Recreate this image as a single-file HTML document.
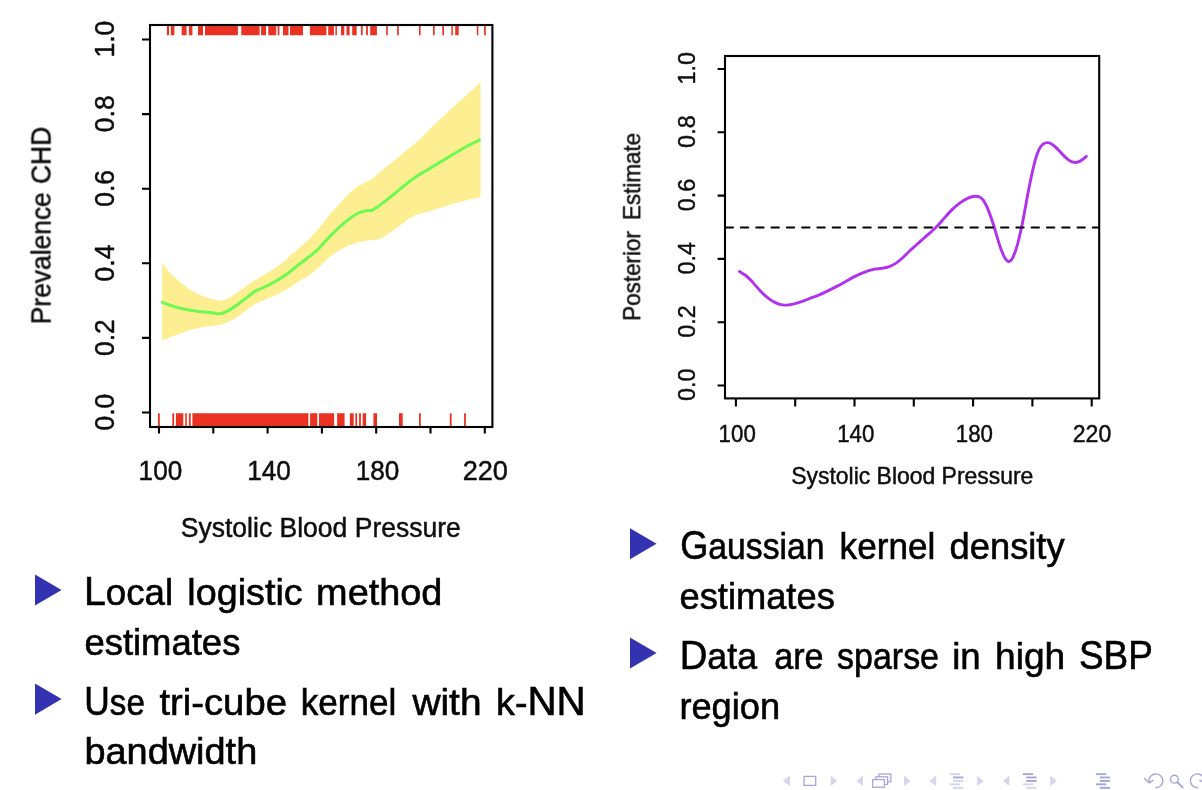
<!DOCTYPE html>
<html lang="en"><head><meta charset="utf-8"><title>Local logistic and kernel density estimates</title>
<style>
html,body{margin:0;padding:0;background:#fff;}
body{width:1202px;height:790px;overflow:hidden;font-family:"Liberation Sans", sans-serif;}
svg{display:block;}
</style></head><body>
<svg width="1202" height="790" viewBox="0 0 1202 790">
<rect width="1202" height="790" fill="#fff"/>
<defs><filter id="soft" x="-5%" y="-5%" width="110%" height="110%"><feGaussianBlur stdDeviation="0.55"/></filter></defs>
<g id="leftplot" filter="url(#soft)">
<polygon fill="#fdef91" points="162.1,263.2 170.2,272.9 180.4,282.6 190.5,290.1 200.6,295.2 210.7,298.8 219.9,300.8 226.9,299.2 235.0,294.1 245.2,286.7 255.3,280.0 265.4,273.9 275.5,267.8 285.7,260.3 290.0,255.4 299.5,247.8 309.0,239.3 318.5,228.8 328.0,216.5 337.5,206.0 347.0,195.6 356.5,187.0 366.0,182.3 371.7,179.4 381.2,170.9 390.7,163.3 400.2,155.7 419.0,139.9 436.5,122.4 454.0,106.4 471.5,90.4 480.5,82.2 480.5,197.3 471.5,199.0 454.0,203.4 436.5,208.9 430.0,211.2 417.3,214.6 407.8,219.3 398.3,226.9 388.8,233.6 381.2,238.5 375.5,239.7 366.0,240.8 356.5,242.7 347.0,245.9 337.5,251.6 328.0,258.3 318.5,267.4 309.0,275.4 299.5,281.1 290.0,287.2 285.7,290.1 275.5,295.2 265.4,299.6 255.3,303.7 245.2,311.0 235.0,318.4 226.9,322.5 219.9,325.1 210.7,325.9 200.6,327.6 190.5,330.0 180.4,333.6 170.2,337.3 162.1,340.7"/>
<path fill="none" stroke="#70f853" stroke-width="3.1" stroke-linejoin="round" d="M161.3 301.8C162.8 302.4 167.0 304.2 170.2 305.3C173.4 306.4 177.0 307.5 180.4 308.3C183.8 309.1 187.1 309.7 190.5 310.3C193.9 310.9 197.2 311.4 200.6 311.8C204.0 312.2 207.5 312.3 210.7 312.6C213.9 312.9 217.2 314.0 219.9 313.8C222.6 313.6 224.4 312.6 226.9 311.4C229.4 310.1 231.9 308.4 235.0 306.3C238.1 304.2 241.8 301.3 245.2 298.8C248.6 296.3 251.9 293.1 255.3 291.1C258.7 289.1 262.0 288.3 265.4 286.7C268.8 285.1 272.1 283.4 275.5 281.4C278.9 279.4 283.3 276.5 285.7 274.9C288.1 273.3 287.7 273.4 290.0 271.6C292.3 269.8 296.3 266.5 299.5 264.0C302.7 261.5 305.8 259.3 309.0 256.8C312.2 254.3 315.3 251.9 318.5 248.8C321.7 245.7 324.8 241.6 328.0 238.3C331.2 235.0 334.3 231.7 337.5 228.8C340.7 225.9 343.8 223.2 347.0 220.7C350.2 218.2 353.3 215.7 356.5 214.0C359.7 212.3 363.5 211.4 366.0 210.8C368.5 210.2 369.8 211.0 371.7 210.4C373.6 209.8 375.2 208.5 377.4 207.0C379.6 205.5 382.1 203.5 385.0 201.3C387.9 199.1 391.3 196.3 394.5 193.7C397.7 191.1 400.8 188.2 404.0 185.7C407.2 183.2 410.3 180.7 413.5 178.5C416.7 176.3 420.1 174.2 423.0 172.4C425.9 170.6 426.5 170.4 430.7 167.9C434.9 165.4 442.4 160.8 448.2 157.3C454.0 153.8 460.2 150.0 465.6 147.0C471.0 144.0 478.0 140.8 480.5 139.5"/>
<path fill="#e93324" d="M166.9 26h2.1v9.2h-2.1zM170.8 26h3.6v9.2h-3.6zM181.7 26h4.9v9.2h-4.9zM188.9 26h3.5v9.2h-3.5zM198.0 26h5.0v9.2h-5.0zM205.0 26h32.9v9.2h-32.9zM241.3 26h18.3v9.2h-18.3zM261.1 26h4.9v9.2h-4.9zM268.3 26h7.9v9.2h-7.9zM277.6 26h1.8v9.2h-1.8zM283.0 26h5.5v9.2h-5.5zM290.0 26h13.0v9.2h-13.0zM309.9 26h16.5v9.2h-16.5zM328.2 26h5.7v9.2h-5.7zM335.4 26h1.5v9.2h-1.5zM341.0 26h3.3v9.2h-3.3zM346.5 26h3.1v9.2h-3.1zM352.2 26h4.5v9.2h-4.5zM360.9 26h1.8v9.2h-1.8zM366.1 26h1.8v9.2h-1.8zM370.2 26h6.7v9.2h-6.7zM386.2 26h1.6v9.2h-1.6zM397.1 26h1.7v9.2h-1.7zM419.0 26h1.6v9.2h-1.6zM433.0 26h1.7v9.2h-1.7zM442.3 26h1.7v9.2h-1.7zM451.3 26h1.5v9.2h-1.5zM455.2 26h3.5v9.2h-3.5zM476.8 26h1.5v9.2h-1.5zM484.1 26h1.7v9.2h-1.7z"/>
<path fill="#e93324" d="M158.0 413.2h1.8v13h-1.8zM172.3 413.2h1.8v13h-1.8zM175.9 413.2h7.4v13h-7.4zM185.2 413.2h1.6v13h-1.6zM188.9 413.2h1.8v13h-1.8zM192.4 413.2h116.0v13h-116.0zM310.1 413.2h7.2v13h-7.2zM319.0 413.2h15.1v13h-15.1zM337.1 413.2h7.5v13h-7.5zM349.9 413.2h3.8v13h-3.8zM355.4 413.2h1.7v13h-1.7zM359.1 413.2h1.8v13h-1.8zM362.7 413.2h3.4v13h-3.4zM373.4 413.2h3.6v13h-3.6zM399.0 413.2h3.7v13h-3.7zM419.0 413.2h1.8v13h-1.8zM449.8 413.2h1.8v13h-1.8zM464.1 413.2h1.8v13h-1.8z"/>
<rect x="150.0" y="25.0" width="342.4" height="402.0" fill="none" stroke="#000" stroke-width="2.1"/>
<path stroke="#000" stroke-width="2.1" fill="none" d="M142 412.5H150M142 337.9H150M142 263.3H150M142 188.7H150M142 114.1H150M142 39.5H150M159.0 427V433.6M213.3 427V433.6M267.6 427V433.6M321.9 427V433.6M376.2 427V433.6M430.5 427V433.6M484.8 427V433.6"/>
<g font-family='"Liberation Sans", sans-serif' font-size="27.7" fill="#0a0a0a" stroke="#0a0a0a" stroke-width="0.45" text-anchor="middle">
<text transform="translate(114 412.2) rotate(-90)" textLength="36.8" lengthAdjust="spacingAndGlyphs">0.0</text>
<text transform="translate(114 337.6) rotate(-90)" textLength="36.8" lengthAdjust="spacingAndGlyphs">0.2</text>
<text transform="translate(114 263.0) rotate(-90)" textLength="36.8" lengthAdjust="spacingAndGlyphs">0.4</text>
<text transform="translate(114 188.4) rotate(-90)" textLength="36.8" lengthAdjust="spacingAndGlyphs">0.6</text>
<text transform="translate(114 113.8) rotate(-90)" textLength="36.8" lengthAdjust="spacingAndGlyphs">0.8</text>
<text transform="translate(114 39.2) rotate(-90)" textLength="36.8" lengthAdjust="spacingAndGlyphs">1.0</text>
<text x="160.4" y="480.1" textLength="43.6" lengthAdjust="spacingAndGlyphs">100</text>
<text x="269.0" y="480.1" textLength="43.6" lengthAdjust="spacingAndGlyphs">140</text>
<text x="377.6" y="480.1" textLength="43.6" lengthAdjust="spacingAndGlyphs">180</text>
<text x="485.3" y="480.1" textLength="45.3" lengthAdjust="spacingAndGlyphs">220</text>
<text font-size="27.9" word-spacing="1" transform="translate(50.5 225.5) rotate(-90)" textLength="197.5" lengthAdjust="spacingAndGlyphs">Prevalence CHD</text>
<text font-size="28.2" x="320.8" y="536.8" textLength="280" lengthAdjust="spacingAndGlyphs">Systolic Blood Pressure</text>
</g></g>
<g id="rightplot" filter="url(#soft)">
<path fill="none" stroke="#b030ec" stroke-width="2.9" stroke-linecap="round" stroke-linejoin="round" d="M739.5 271.5C740.4 272.1 743.2 273.7 745.0 275.0C746.8 276.3 748.3 277.8 750.0 279.4C751.7 281.0 753.4 283.1 755.0 284.9C756.6 286.7 758.2 288.6 759.9 290.4C761.5 292.1 763.2 293.9 764.9 295.4C766.6 296.9 768.2 298.2 769.9 299.4C771.6 300.6 773.2 301.6 774.9 302.4C776.6 303.2 778.2 303.9 779.9 304.4C781.6 304.8 783.2 305.1 784.9 305.1C786.6 305.2 788.2 304.9 789.9 304.7C791.6 304.5 793.2 304.1 794.9 303.7C796.6 303.3 798.2 302.7 799.9 302.1C801.6 301.6 803.2 301.0 804.9 300.4C806.5 299.8 808.1 299.0 809.8 298.4C811.4 297.8 813.1 297.2 814.8 296.6C816.5 296.0 818.1 295.3 819.8 294.6C821.5 293.9 823.1 293.2 824.8 292.4C826.5 291.6 828.1 290.7 829.8 289.9C831.5 289.1 833.1 288.3 834.8 287.4C836.5 286.5 838.0 285.8 840.0 284.7C842.0 283.6 844.7 282.1 847.0 280.8C849.3 279.5 851.6 278.1 853.9 276.9C856.2 275.7 858.6 274.6 860.9 273.6C863.2 272.6 865.6 271.6 867.9 270.8C870.2 270.1 872.5 269.5 874.8 269.1C877.1 268.7 879.5 268.7 881.8 268.3C884.1 267.9 886.4 267.6 888.7 266.8C891.0 266.0 893.4 264.9 895.7 263.4C898.0 261.9 900.4 259.8 902.7 257.7C905.0 255.6 907.3 253.2 909.6 251.0C911.9 248.8 914.3 246.9 916.6 244.8C918.9 242.7 921.3 240.6 923.6 238.5C925.9 236.4 928.2 234.5 930.5 232.4C932.8 230.3 935.2 228.2 937.5 225.8C939.8 223.4 942.2 220.5 944.5 217.9C946.8 215.3 949.1 212.7 951.4 210.4C953.7 208.1 956.1 206.0 958.4 204.2C960.7 202.4 963.2 200.7 965.3 199.5C967.4 198.3 969.1 197.6 970.9 197.0C972.6 196.4 974.3 196.2 975.8 196.2C977.3 196.2 978.7 196.5 980.0 197.2C981.3 197.9 982.3 198.8 983.4 200.3C984.5 201.8 985.4 203.6 986.6 206.2C987.8 208.8 989.1 212.3 990.4 215.8C991.7 219.3 993.0 223.3 994.3 227.3C995.5 231.3 996.7 235.7 997.9 239.6C999.1 243.5 1000.4 247.6 1001.6 250.8C1002.8 254.0 1004.1 256.8 1005.3 258.6C1006.5 260.4 1007.5 261.4 1008.6 261.5C1009.7 261.6 1010.7 261.0 1011.8 259.4C1012.9 257.8 1014.1 255.0 1015.3 251.6C1016.5 248.2 1017.8 243.6 1018.9 239.0C1020.0 234.4 1021.1 229.4 1022.2 224.2C1023.3 219.0 1024.3 213.3 1025.3 207.8C1026.3 202.3 1027.3 196.6 1028.4 191.0C1029.5 185.4 1030.6 179.8 1031.8 174.5C1033.0 169.2 1034.3 163.4 1035.5 159.2C1036.7 155.0 1038.0 151.7 1039.2 149.2C1040.5 146.7 1041.6 145.3 1043.0 144.2C1044.4 143.1 1046.0 142.6 1047.5 142.6C1049.0 142.6 1050.3 143.1 1052.0 144.2C1053.7 145.2 1055.5 147.1 1057.4 148.9C1059.3 150.7 1061.3 153.2 1063.2 155.1C1065.1 157.0 1067.0 158.9 1068.8 160.1C1070.6 161.3 1072.5 162.1 1074.2 162.4C1075.9 162.7 1077.5 162.3 1079.0 161.7C1080.5 161.1 1082.2 159.7 1083.4 158.8C1084.6 157.9 1085.9 156.8 1086.4 156.4"/>
<path fill="none" stroke="#000" stroke-width="2" stroke-linecap="round" stroke-dasharray="7.4 7.9" d="M725.6 227.4H1098"/>
<rect x="725.0" y="56.0" width="374.2" height="342.4" fill="none" stroke="#000" stroke-width="2.1"/>
<path stroke="#000" stroke-width="2.1" fill="none" d="M717.6 385.5H725M717.6 322.2H725M717.6 258.9H725M717.6 195.6H725M717.6 132.3H725M717.6 69.0H725M735.9 398.4V406.4M795.2 398.4V406.4M854.5 398.4V406.4M913.8 398.4V406.4M973.1 398.4V406.4M1032.4 398.4V406.4M1091.7 398.4V406.4"/>
<g font-family='"Liberation Sans", sans-serif' font-size="23.6" fill="#0a0a0a" stroke="#0a0a0a" stroke-width="0.4" text-anchor="middle">
<text transform="translate(695 384.8) rotate(-90)" textLength="32.6" lengthAdjust="spacingAndGlyphs">0.0</text>
<text transform="translate(695 321.5) rotate(-90)" textLength="32.6" lengthAdjust="spacingAndGlyphs">0.2</text>
<text transform="translate(695 258.2) rotate(-90)" textLength="32.6" lengthAdjust="spacingAndGlyphs">0.4</text>
<text transform="translate(695 194.9) rotate(-90)" textLength="32.6" lengthAdjust="spacingAndGlyphs">0.6</text>
<text transform="translate(695 131.6) rotate(-90)" textLength="32.6" lengthAdjust="spacingAndGlyphs">0.8</text>
<text transform="translate(695 68.3) rotate(-90)" textLength="32.6" lengthAdjust="spacingAndGlyphs">1.0</text>
<text x="737.2" y="442.1" textLength="37.2" lengthAdjust="spacingAndGlyphs">100</text>
<text x="855.8" y="442.1" textLength="37.2" lengthAdjust="spacingAndGlyphs">140</text>
<text x="974.4" y="442.1" textLength="37.2" lengthAdjust="spacingAndGlyphs">180</text>
<text x="1092.0" y="442.1" textLength="38.5" lengthAdjust="spacingAndGlyphs">220</text>
<text word-spacing="5" transform="translate(640.2 226.8) rotate(-90)" textLength="188" lengthAdjust="spacingAndGlyphs">Posterior Estimate</text>
<text x="912.3" y="484.4" textLength="242" lengthAdjust="spacingAndGlyphs">Systolic Blood Pressure</text>
</g></g>
<path fill="#3333b2" d="M35 574.4L61.6 590.0L35 605.6z"/>
<path fill="#3333b2" d="M35 683.5L61.6 699.1L35 714.7z"/>
<path fill="#3333b2" d="M630 528.3L656.6 543.8L630 559.3z"/>
<path fill="#3333b2" d="M630 637.6L656.6 653.1L630 668.6z"/>
<g id="bullets" font-family='"Liberation Sans", sans-serif' font-size="37.2" fill="#000" stroke="#000" stroke-width="0.6">
<text y="605.4"><tspan x="83.91" textLength="89.19" lengthAdjust="spacingAndGlyphs"><tspan font-size="39.8">L</tspan>ocal</tspan> <tspan x="187.38" textLength="115.26" lengthAdjust="spacingAndGlyphs">logistic</tspan> <tspan x="316.11" textLength="126.21" lengthAdjust="spacingAndGlyphs">method</tspan></text>
<text y="655.1"><tspan x="84.42" textLength="155.95" lengthAdjust="spacingAndGlyphs">estimates</tspan></text>
<text y="714.8"><tspan x="84.33" textLength="60.43" lengthAdjust="spacingAndGlyphs"><tspan font-size="39.8">U</tspan>se</tspan> <tspan x="159.45" textLength="127.48" lengthAdjust="spacingAndGlyphs">tri-cube</tspan> <tspan x="300.67" textLength="95.60" lengthAdjust="spacingAndGlyphs">kernel</tspan> <tspan x="412.40" textLength="69.16" lengthAdjust="spacingAndGlyphs">with</tspan> <tspan x="496.07" textLength="89.64" lengthAdjust="spacingAndGlyphs">k-<tspan font-size="39.8">NN</tspan></tspan></text>
<text y="764.3"><tspan x="84.44" textLength="172.80" lengthAdjust="spacingAndGlyphs">bandwidth</tspan></text>
<text y="559.4"><tspan x="680.31" textLength="144.21" lengthAdjust="spacingAndGlyphs"><tspan font-size="39.8">G</tspan>aussian</tspan> <tspan x="839.60" textLength="95.69" lengthAdjust="spacingAndGlyphs">kernel</tspan> <tspan x="949.62" textLength="114.96" lengthAdjust="spacingAndGlyphs">density</tspan></text>
<text y="609.1"><tspan x="679.47" textLength="155.33" lengthAdjust="spacingAndGlyphs">estimates</tspan></text>
<text y="669.4"><tspan x="679.73" textLength="77.31" lengthAdjust="spacingAndGlyphs"><tspan font-size="39.8">D</tspan>ata</tspan> <tspan x="774.24" textLength="49.24" lengthAdjust="spacingAndGlyphs">are</tspan> <tspan x="837.12" textLength="101.88" lengthAdjust="spacingAndGlyphs">sparse</tspan> <tspan x="952.16" textLength="28.49" lengthAdjust="spacingAndGlyphs">in</tspan> <tspan x="995.00" textLength="70.17" lengthAdjust="spacingAndGlyphs">high</tspan> <tspan x="1079.00" textLength="73.84" lengthAdjust="spacingAndGlyphs"><tspan font-size="39.8">SBP</tspan></tspan></text>
<text y="718.8"><tspan x="679.43" textLength="100.63" lengthAdjust="spacingAndGlyphs">region</tspan></text>
</g>
<g id="nav">
<path fill="#d5d5ee" d="M789.9 775.7L782.9 780.9L789.9 786.0z"/>
<path fill="#d5d5ee" d="M830.7 775.7L837.3 780.9L830.7 786.0z"/>
<rect x="804" y="776.4" width="11.7" height="9" fill="#fff" stroke="#a6a6da" stroke-width="1.3"/>
<path fill="#d5d5ee" d="M862.9 775.7L856.3 780.9L862.9 786.0z"/>
<path fill="#d5d5ee" d="M904.0 775.7L910.7 780.9L904.0 786.0z"/>
<rect x="879.1" y="774.0" width="11.7" height="7.6" fill="#fff" stroke="#a6a6da" stroke-width="1.3"/>
<rect x="875.9" y="776.8" width="11.7" height="7.6" fill="#fff" stroke="#a6a6da" stroke-width="1.3"/>
<rect x="872.7" y="779.6" width="11.7" height="7.6" fill="#fff" stroke="#a6a6da" stroke-width="1.3"/>
<path fill="#d5d5ee" d="M936.1 775.7L929.3 780.9L936.1 786.0z"/>
<path fill="#d5d5ee" d="M977.1 775.7L983.8 780.9L977.1 786.0z"/>
<rect x="949.7" y="773.2" width="10.4" height="1.9" fill="#d5d5ee"/><rect x="953.0" y="776.5" width="10.4" height="1.9" fill="#a6a6da"/><rect x="953.0" y="780.0" width="10.4" height="1.9" fill="#d5d5ee"/><rect x="949.7" y="783.4" width="10.4" height="1.9" fill="#d5d5ee"/><rect x="953.0" y="786.9" width="10.4" height="1.9" fill="#d5d5ee"/>
<path fill="#d5d5ee" d="M1009.4 775.7L1002.7 780.9L1009.4 786.0z"/>
<path fill="#d5d5ee" d="M1050.2 775.7L1056.8 780.9L1050.2 786.0z"/>
<rect x="1022.8" y="773.2" width="10.4" height="1.9" fill="#a6a6da"/><rect x="1026.2" y="776.5" width="10.4" height="1.9" fill="#a6a6da"/><rect x="1026.2" y="780.0" width="10.4" height="1.9" fill="#a6a6da"/><rect x="1022.8" y="783.4" width="10.4" height="1.9" fill="#d5d5ee"/><rect x="1026.2" y="786.9" width="10.4" height="1.9" fill="#d5d5ee"/>
<rect x="1096.0" y="773.2" width="10.3" height="1.9" fill="#a6a6da"/><rect x="1099.8" y="776.5" width="10.3" height="1.9" fill="#a6a6da"/><rect x="1099.8" y="780.0" width="10.3" height="1.9" fill="#a6a6da"/><rect x="1096.0" y="783.4" width="10.3" height="1.9" fill="#a6a6da"/><rect x="1099.8" y="786.9" width="10.3" height="1.9" fill="#a6a6da"/>
<g fill="none" stroke="#a6a6da" stroke-width="1.4" stroke-linecap="round" stroke-linejoin="round">
<path d="M1149.2 782.4A6.9 6.9 0 1 1 1155.8 787.7"/>
<path d="M1144.6 778.4L1149 782.8L1153 780.3"/>
<circle cx="1174.4" cy="779.2" r="3.9"/>
<path d="M1177.3 782.3L1182.6 787.4" stroke-width="2"/>
<path d="M1204 782.4A6.9 6.9 0 1 0 1197.4 787.7"/>
<path d="M1200 780.3L1204 782.8"/>
</g></g>
</svg>
</body></html>
